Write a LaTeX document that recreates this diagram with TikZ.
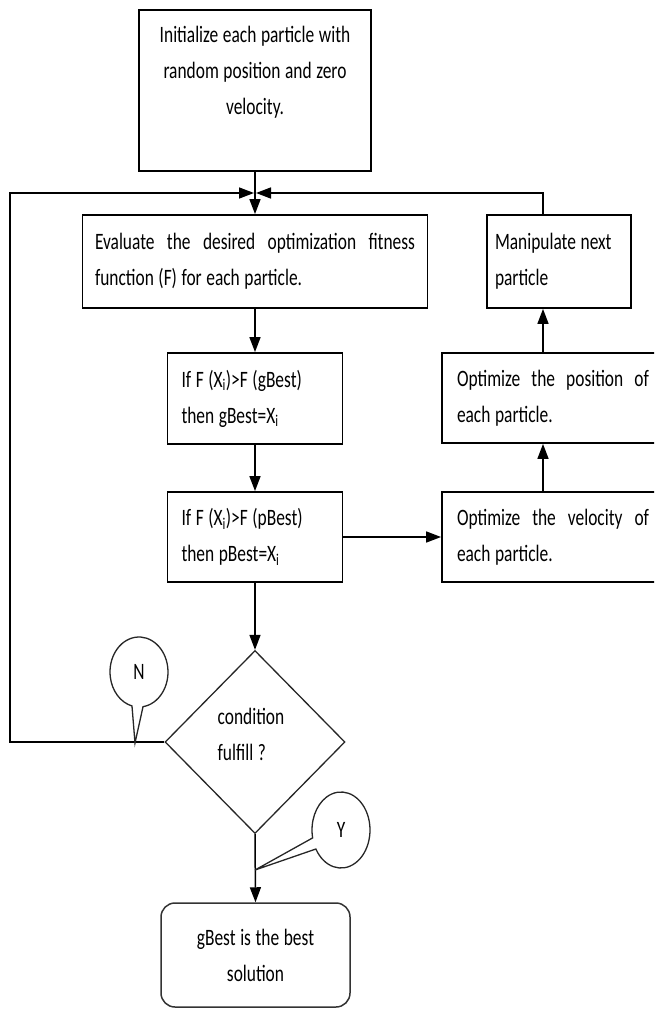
\documentclass[tikz,border=0pt]{standalone}
\usepackage{fontspec}
\setmainfont{Carlito}[FakeStretch=0.74]
\usetikzlibrary{shapes.geometric,arrows.meta,calc}

% word spacing and no hyphenation inside the flowchart boxes
\newcommand{\flowspacing}{\hyphenpenalty=10000\relax\spaceskip=4.6pt plus 4pt minus 1pt\relax}

\tikzset{
  txtfont/.style={font=\fontsize{23.5pt}{36pt}\selectfont, execute at begin node=\flowspacing},
  box/.style={draw=black, line width=1.8pt, rectangle, inner ysep=0pt, txtfont},
  plain/.style={inner sep=0pt, txtfont},
  decision/.style={draw=black!85, line width=1.3pt, diamond, inner sep=0pt, txtfont},
  endbox/.style={draw=black!80, line width=1.5pt, rectangle, rounded corners=14pt, inner sep=0pt, txtfont},
  callout/.style={draw=black!85, line width=1.3pt},
  conn/.style={line width=1.5pt},
  arr/.style={conn, -{Triangle[length=15pt,width=11pt]}},
}

\begin{document}
\begin{tikzpicture}[x=1pt,y=1pt]
  \useasboundingbox (0,0) rectangle (654,-1011);
  \clip (0,0) rectangle (654,-1011);

  % process boxes
  \node[box, minimum width=232pt, minimum height=161pt] (init) at (255,-90.5) {};
  \node[plain, align=center] (initText) at (255,-72)
    {Initialize each particle with\\random position and zero\\velocity.};

  \node[box, text width=320pt, inner xsep=12.5pt, minimum height=93pt, align=justify]
    (eval) at (255,-261.5)
    {Evaluate the desired optimization fitness\linebreak function (F) for each particle.};

  \node[box, text width=128pt, inner xsep=8pt, minimum height=93pt, align=left]
    (manip) at (559,-261.5) {Manipulate next\\particle};

  \node[box, text width=147pt, inner xsep=14pt, minimum height=91pt, align=left]
    (gbest) at (255,-398.5)
    {If F (X\textsubscript{i})>F (gBest)\\then gBest=X\textsubscript{i}};

  \node[box, text width=147pt, inner xsep=14pt, minimum height=90pt, align=left]
    (pbest) at (255,-537)
    {If F (X\textsubscript{i})>F (pBest)\\then pBest=X\textsubscript{i}};

  \node[box, text width=192pt, inner xsep=15pt, minimum height=90pt, align=justify]
    (position) at (553,-398)
    {Optimize the position of\linebreak each particle.};

  \node[box, text width=192pt, inner xsep=15pt, minimum height=90pt, align=justify]
    (velocity) at (553,-537)
    {Optimize the velocity of\linebreak each particle.};

  % decision and end
  \node[decision, minimum width=180pt, minimum height=183pt] (cond) at (255,-742) {};
  \node[plain, align=left] (condText) at (251,-734) {condition\\fulfill ?};

  \node[endbox, minimum width=189pt, minimum height=104pt, align=center]
    (final) at (255.5,-955) {gBest is the best\\solution};

  % routing points
  \coordinate (col) at (543,0);
  \coordinate (loopL) at (10,-193);
  \coordinate (joinL) at (254,-193);
  \coordinate (joinR) at (256,-193);
  \coordinate (noTip) at (135,-743);
  \coordinate (yesTip) at (255,-870);

  % connectors
  \draw[arr] (init.south) -- (eval.north);
  \draw[arr] (eval.south) -- (gbest.north);
  \draw[arr] (gbest.south) -- (pbest.north);
  \draw[arr] (pbest.east) -- (velocity.west);
  \draw[arr] (velocity.north -| col) -- (position.south -| col);
  \draw[arr] (position.north -| col) -- (manip.south -| col);
  \draw[arr] (manip.north -| col) |- (joinR);
  \draw[arr] (pbest.south) -- (cond.north);
  \draw[arr] (cond.west) -| (loopL) -- (joinL);
  \draw[arr] (cond.south) -- (final.north);

  % callouts for the two outcomes
  \coordinate (noC) at (139,-672);
  \draw[callout, fill=white] ([shift={(-82:29pt and 35pt)}]noC)
    arc[start angle=-82, end angle=256, x radius=29pt, y radius=35pt]
    -- (noTip) -- cycle;
  \node[plain] (noLabel) at (noC) {N};

  \coordinate (yesC) at (341,-830);
  \draw[callout, fill=white] ([shift={(210:29pt and 38pt)}]yesC)
    arc[start angle=210, end angle=552, x radius=29pt, y radius=38pt]
    -- (yesTip) -- cycle;
  \node[plain] (yesLabel) at (yesC) {Y};
\end{tikzpicture}
\end{document}
